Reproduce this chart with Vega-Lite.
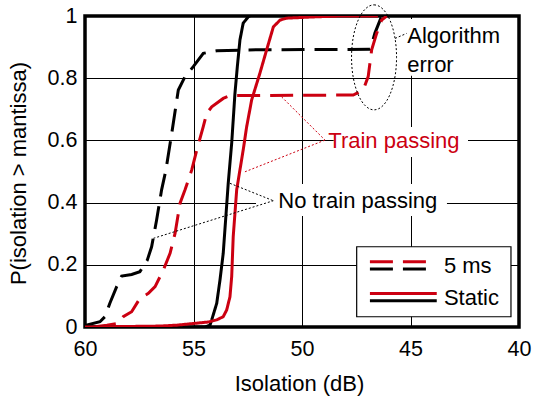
{
  "$schema": "https://vega.github.io/schema/vega-lite/v6.json",
  "width": 434,
  "height": 311,
  "autosize": "none",
  "padding": {"left": 85, "top": 16, "right": 24, "bottom": 70},
  "background": "white",
  "config": {
    "view": {"stroke": "black", "strokeWidth": 3.5},
    "font": "Liberation Sans",
    "text": {"font": "Liberation Sans"}
  },
  "datasets": {
    "curves": [
      {"condition": "No train passing", "mode": "5 ms", "x": 60, "y": 0},
      {"condition": "No train passing", "mode": "5 ms", "x": 59.92, "y": 0.006},
      {"condition": "No train passing", "mode": "5 ms", "x": 59.31, "y": 0.017},
      {"condition": "No train passing", "mode": "5 ms", "x": 59.08, "y": 0.033},
      {"condition": "No train passing", "mode": "5 ms", "x": 58.85, "y": 0.077},
      {"condition": "No train passing", "mode": "5 ms", "x": 58.54, "y": 0.13},
      {"condition": "No train passing", "mode": "5 ms", "x": 58.31, "y": 0.164},
      {"condition": "No train passing", "mode": "5 ms", "x": 57.85, "y": 0.169},
      {"condition": "No train passing", "mode": "5 ms", "x": 57.47, "y": 0.178},
      {"condition": "No train passing", "mode": "5 ms", "x": 57.13, "y": 0.215},
      {"condition": "No train passing", "mode": "5 ms", "x": 56.93, "y": 0.258},
      {"condition": "No train passing", "mode": "5 ms", "x": 56.7, "y": 0.344},
      {"condition": "No train passing", "mode": "5 ms", "x": 56.47, "y": 0.441},
      {"condition": "No train passing", "mode": "5 ms", "x": 56.27, "y": 0.505},
      {"condition": "No train passing", "mode": "5 ms", "x": 56.0, "y": 0.624},
      {"condition": "No train passing", "mode": "5 ms", "x": 55.7, "y": 0.762},
      {"condition": "No train passing", "mode": "5 ms", "x": 55.39, "y": 0.805},
      {"condition": "No train passing", "mode": "5 ms", "x": 55.01, "y": 0.837},
      {"condition": "No train passing", "mode": "5 ms", "x": 54.55, "y": 0.88},
      {"condition": "No train passing", "mode": "5 ms", "x": 53.93, "y": 0.888},
      {"condition": "No train passing", "mode": "5 ms", "x": 52.55, "y": 0.891},
      {"condition": "No train passing", "mode": "5 ms", "x": 46.87, "y": 0.893},
      {"condition": "No train passing", "mode": "5 ms", "x": 46.82, "y": 0.9},
      {"condition": "No train passing", "mode": "5 ms", "x": 46.64, "y": 0.945},
      {"condition": "No train passing", "mode": "5 ms", "x": 46.36, "y": 0.994},
      {"condition": "No train passing", "mode": "5 ms", "x": 46.22, "y": 1.0},

      {"condition": "Train passing", "mode": "5 ms", "x": 59.63, "y": 0},
      {"condition": "Train passing", "mode": "5 ms", "x": 58.99, "y": 0.006},
      {"condition": "Train passing", "mode": "5 ms", "x": 58.47, "y": 0.012},
      {"condition": "Train passing", "mode": "5 ms", "x": 58.24, "y": 0.033},
      {"condition": "Train passing", "mode": "5 ms", "x": 57.85, "y": 0.049},
      {"condition": "Train passing", "mode": "5 ms", "x": 57.47, "y": 0.092},
      {"condition": "Train passing", "mode": "5 ms", "x": 57.08, "y": 0.108},
      {"condition": "Train passing", "mode": "5 ms", "x": 56.77, "y": 0.13},
      {"condition": "Train passing", "mode": "5 ms", "x": 56.39, "y": 0.183},
      {"condition": "Train passing", "mode": "5 ms", "x": 56.08, "y": 0.237},
      {"condition": "Train passing", "mode": "5 ms", "x": 55.85, "y": 0.301},
      {"condition": "Train passing", "mode": "5 ms", "x": 55.62, "y": 0.398},
      {"condition": "Train passing", "mode": "5 ms", "x": 55.39, "y": 0.441},
      {"condition": "Train passing", "mode": "5 ms", "x": 55.08, "y": 0.505},
      {"condition": "Train passing", "mode": "5 ms", "x": 54.85, "y": 0.569},
      {"condition": "Train passing", "mode": "5 ms", "x": 54.55, "y": 0.644},
      {"condition": "Train passing", "mode": "5 ms", "x": 54.39, "y": 0.687},
      {"condition": "Train passing", "mode": "5 ms", "x": 54.16, "y": 0.708},
      {"condition": "Train passing", "mode": "5 ms", "x": 53.63, "y": 0.735},
      {"condition": "Train passing", "mode": "5 ms", "x": 53.32, "y": 0.744},
      {"condition": "Train passing", "mode": "5 ms", "x": 47.64, "y": 0.746},
      {"condition": "Train passing", "mode": "5 ms", "x": 47.18, "y": 0.762},
      {"condition": "Train passing", "mode": "5 ms", "x": 46.95, "y": 0.805},
      {"condition": "Train passing", "mode": "5 ms", "x": 46.79, "y": 0.891},
      {"condition": "Train passing", "mode": "5 ms", "x": 46.56, "y": 0.944},
      {"condition": "Train passing", "mode": "5 ms", "x": 46.33, "y": 0.987},
      {"condition": "Train passing", "mode": "5 ms", "x": 46.1, "y": 1.0},

      {"condition": "No train passing", "mode": "Static", "x": 60, "y": 0},
      {"condition": "No train passing", "mode": "Static", "x": 54.47, "y": 0},
      {"condition": "No train passing", "mode": "Static", "x": 54.24, "y": 0.006},
      {"condition": "No train passing", "mode": "Static", "x": 54.16, "y": 0.023},
      {"condition": "No train passing", "mode": "Static", "x": 53.93, "y": 0.076},
      {"condition": "No train passing", "mode": "Static", "x": 53.78, "y": 0.151},
      {"condition": "No train passing", "mode": "Static", "x": 53.63, "y": 0.237},
      {"condition": "No train passing", "mode": "Static", "x": 53.52, "y": 0.344},
      {"condition": "No train passing", "mode": "Static", "x": 53.4, "y": 0.462},
      {"condition": "No train passing", "mode": "Static", "x": 53.24, "y": 0.591},
      {"condition": "No train passing", "mode": "Static", "x": 53.09, "y": 0.751},
      {"condition": "No train passing", "mode": "Static", "x": 52.98, "y": 0.837},
      {"condition": "No train passing", "mode": "Static", "x": 52.86, "y": 0.923},
      {"condition": "No train passing", "mode": "Static", "x": 52.71, "y": 0.977},
      {"condition": "No train passing", "mode": "Static", "x": 52.47, "y": 0.998},
      {"condition": "No train passing", "mode": "Static", "x": 52.4, "y": 1.0},

      {"condition": "Train passing", "mode": "Static", "x": 60, "y": 0},
      {"condition": "Train passing", "mode": "Static", "x": 56.54, "y": 0.003},
      {"condition": "Train passing", "mode": "Static", "x": 55.76, "y": 0.006},
      {"condition": "Train passing", "mode": "Static", "x": 54.33, "y": 0.016},
      {"condition": "Train passing", "mode": "Static", "x": 53.93, "y": 0.023},
      {"condition": "Train passing", "mode": "Static", "x": 53.63, "y": 0.033},
      {"condition": "Train passing", "mode": "Static", "x": 53.47, "y": 0.055},
      {"condition": "Train passing", "mode": "Static", "x": 53.32, "y": 0.097},
      {"condition": "Train passing", "mode": "Static", "x": 53.24, "y": 0.162},
      {"condition": "Train passing", "mode": "Static", "x": 53.17, "y": 0.29},
      {"condition": "Train passing", "mode": "Static", "x": 53.01, "y": 0.441},
      {"condition": "Train passing", "mode": "Static", "x": 52.86, "y": 0.505},
      {"condition": "Train passing", "mode": "Static", "x": 52.71, "y": 0.569},
      {"condition": "Train passing", "mode": "Static", "x": 52.55, "y": 0.644},
      {"condition": "Train passing", "mode": "Static", "x": 52.32, "y": 0.73},
      {"condition": "Train passing", "mode": "Static", "x": 52.25, "y": 0.746},
      {"condition": "Train passing", "mode": "Static", "x": 51.94, "y": 0.816},
      {"condition": "Train passing", "mode": "Static", "x": 51.63, "y": 0.891},
      {"condition": "Train passing", "mode": "Static", "x": 51.32, "y": 0.965},
      {"condition": "Train passing", "mode": "Static", "x": 51.01, "y": 0.987},
      {"condition": "Train passing", "mode": "Static", "x": 50.71, "y": 0.993},
      {"condition": "Train passing", "mode": "Static", "x": 49.49, "y": 0.997},
      {"condition": "Train passing", "mode": "Static", "x": 48.25, "y": 1.0},
      {"condition": "Train passing", "mode": "Static", "x": 46.5, "y": 1.0}
    ],
    "labelBoxes": [
      {"x": 45.34, "x2": 40.2, "y": 0.99, "y2": 0.808},
      {"x": 48.54, "x2": 42.35, "y": 0.643, "y2": 0.547},
      {"x": 52.12, "x2": 43.32, "y": 0.46, "y2": 0.357}
    ],
    "leaders": [
      {"condition": "Train passing", "x": 50.94, "y": 0.74, "x2": 48.94, "y2": 0.601},
      {"condition": "Train passing", "x": 52.63, "y": 0.499, "x2": 48.94, "y2": 0.601},
      {"condition": "No train passing", "x": 53.32, "y": 0.462, "x2": 51.32, "y2": 0.406},
      {"condition": "No train passing", "x": 56.85, "y": 0.285, "x2": 51.32, "y2": 0.406},
      {"condition": "No train passing", "x": 45.71, "y": 0.928, "x2": 45.18, "y2": 0.944}
    ],
    "ellipse": [
      {"x": 46.68, "y": 0.867}
    ],
    "blackNotes": [
      {"x": 45.15, "y": 0.912, "text": "Algorithm"},
      {"x": 45.15, "y": 0.8215, "text": "error"},
      {"x": 51.09, "y": 0.3836, "text": "No train passing"}
    ],
    "redNotes": [
      {"x": 48.79, "y": 0.5765, "text": "Train passing"}
    ],
    "legendBox": [
      {"x": 47.48, "x2": 40.37, "y": 0.258, "y2": 0.033}
    ],
    "legendDashed": [
      {"condition": "Train passing", "x": 46.87, "x2": 44.23, "y": 0.21},
      {"condition": "No train passing", "x": 46.87, "x2": 44.23, "y": 0.1865}
    ],
    "legendSolid": [
      {"condition": "Train passing", "x": 46.87, "x2": 43.79, "y": 0.108},
      {"condition": "No train passing", "x": 46.87, "x2": 43.79, "y": 0.0846}
    ],
    "legendText": [
      {"x": 43.46, "y": 0.1727, "text": "5 ms"},
      {"x": 43.46, "y": 0.0707, "text": "Static"}
    ]
  },
  "encoding": {
    "x": {
      "field": "x",
      "type": "quantitative",
      "scale": {"domain": [40, 60], "reverse": true, "nice": false, "zero": false},
      "axis": {
        "title": "Isolation (dB)",
        "values": [40, 45, 50, 55, 60],
        "grid": true,
        "gridColor": "#000000",
        "gridWidth": 1,
        "domain": false,
        "ticks": false,
        "labelFont": "Liberation Sans",
        "labelFontSize": 21.5,
        "labelColor": "black",
        "labelPadding": 11,
        "labelFlush": false,
        "labelOverlap": false,
        "titleFont": "Liberation Sans",
        "titleFontSize": 22,
        "titleFontWeight": "normal",
        "titleColor": "black",
        "titleX": 214,
        "titleY": 63,
        "titleBaseline": "alphabetic"
      }
    },
    "y": {
      "field": "y",
      "type": "quantitative",
      "scale": {"domain": [0, 1], "nice": false},
      "axis": {
        "title": "P(isolation > mantissa)",
        "values": [0, 0.2, 0.4, 0.6, 0.8, 1],
        "format": "~g",
        "grid": true,
        "gridColor": "#000000",
        "gridWidth": 1,
        "domain": false,
        "ticks": false,
        "labelFont": "Liberation Sans",
        "labelFontSize": 21.5,
        "labelColor": "black",
        "labelPadding": 8,
        "labelFlush": false,
        "labelOverlap": false,
        "titleFont": "Liberation Sans",
        "titleFontSize": 22,
        "titleFontWeight": "normal",
        "titleColor": "black",
        "titleAngle": 270,
        "titleX": -55,
        "titleY": 157,
        "titleBaseline": "bottom"
      }
    }
  },
  "layer": [
    {
      "data": {"name": "labelBoxes"},
      "mark": {"type": "rect", "fill": "white", "strokeWidth": 0},
      "encoding": {
        "x2": {"field": "x2"},
        "y2": {"field": "y2"}
      }
    },
    {
      "data": {"name": "curves"},
      "mark": {"type": "line", "strokeWidth": 3, "clip": true},
      "encoding": {
        "color": {
          "field": "condition",
          "type": "nominal",
          "scale": {"domain": ["Train passing", "No train passing"], "range": ["#cc0011", "#000000"]},
          "legend": null
        },
        "strokeDash": {
          "field": "mode",
          "type": "nominal",
          "scale": {"domain": ["5 ms", "Static"], "range": [[23, 10], [1, 0]]},
          "legend": null
        },
        "order": {"field": "x", "sort": "descending"}
      }
    },
    {
      "data": {"name": "leaders"},
      "mark": {"type": "rule", "strokeWidth": 1, "strokeDash": [2, 2]},
      "encoding": {
        "x2": {"field": "x2"},
        "y2": {"field": "y2"},
        "color": {"field": "condition", "type": "nominal", "legend": null}
      }
    },
    {
      "data": {"name": "ellipse"},
      "mark": {
        "type": "point",
        "shape": "M0,-1A0.4286,1 0 1,1 0,1A0.4286,1 0 1,1 0,-1Z",
        "size": 11025,
        "filled": false,
        "color": "black",
        "opacity": 1,
        "strokeWidth": 1,
        "strokeDash": [2, 2]
      }
    },
    {
      "data": {"name": "blackNotes"},
      "mark": {"type": "text", "align": "left", "baseline": "alphabetic", "fontSize": 22, "color": "black"},
      "encoding": {"text": {"field": "text"}}
    },
    {
      "data": {"name": "redNotes"},
      "mark": {"type": "text", "align": "left", "baseline": "alphabetic", "fontSize": 22, "color": "#cc0011"},
      "encoding": {"text": {"field": "text"}}
    },
    {
      "data": {"name": "legendBox"},
      "mark": {"type": "rect", "fill": "white", "stroke": "black", "strokeWidth": 1.2},
      "encoding": {
        "x2": {"field": "x2"},
        "y2": {"field": "y2"}
      }
    },
    {
      "data": {"name": "legendDashed"},
      "mark": {"type": "rule", "strokeWidth": 3, "strokeDash": [23, 10]},
      "encoding": {
        "x2": {"field": "x2"},
        "color": {"field": "condition", "type": "nominal", "legend": null}
      }
    },
    {
      "data": {"name": "legendSolid"},
      "mark": {"type": "rule", "strokeWidth": 3},
      "encoding": {
        "x2": {"field": "x2"},
        "color": {"field": "condition", "type": "nominal", "legend": null}
      }
    },
    {
      "data": {"name": "legendText"},
      "mark": {"type": "text", "align": "left", "baseline": "alphabetic", "fontSize": 22, "color": "black"},
      "encoding": {"text": {"field": "text"}}
    }
  ]
}
